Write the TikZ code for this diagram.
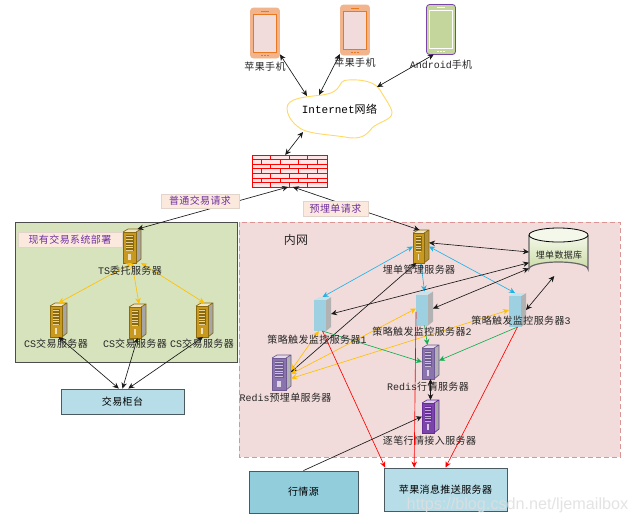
\documentclass[tikz,border=0pt]{standalone}
\usepackage{fontspec}
\setmainfont[LetterSpace=4]{Noto Sans CJK SC}
\newfontfamily\lat{Liberation Mono}
\newfontfamily\wm{Liberation Sans}
\usetikzlibrary{arrows.meta}
\definecolor{pinkbg}{HTML}{F2DCDB}
\definecolor{pinkline}{HTML}{D99694}
\definecolor{greenbg}{HTML}{D7E3BC}
\definecolor{tag}{HTML}{FBE9DD}
\definecolor{tagtext}{HTML}{7030A0}
\definecolor{boxblue}{HTML}{B7DDE8}
\definecolor{boxteal}{HTML}{92CDDC}
\definecolor{boxline}{HTML}{4A5A60}
\definecolor{gold}{HTML}{C9991F}
\definecolor{golddark}{HTML}{8A6A0C}
\definecolor{ice}{HTML}{9DD0E0}
\definecolor{mauve}{HTML}{8B74AE}
\definecolor{mauved}{HTML}{6F5A94}
\definecolor{violet}{HTML}{7A45A8}
\definecolor{violetd}{HTML}{6A2C9A}
\definecolor{cyanarrow}{HTML}{1FB4E8}
\definecolor{yelarrow}{HTML}{FFC000}
\definecolor{grnarrow}{HTML}{10B050}
\definecolor{cloudline}{HTML}{FFD966}
\definecolor{peach}{HTML}{F2B48C}
\definecolor{phoneor}{HTML}{E9781E}
\definecolor{phonegr}{HTML}{C5D69C}
\definecolor{dbtop}{HTML}{F4F8EA}
\definecolor{dbbot}{HTML}{CBDCA6}
\tikzset{
  lbl/.style={inner sep=0pt,font=\fontsize{10}{11}\selectfont,text=black!85},
  tagbox/.style={fill=tag,draw=tag!80!gray,line width=.3pt,inner sep=0pt,text=tagtext,font=\fontsize{10}{11}\selectfont},
  blockbox/.style={draw=boxline,line width=.9pt,inner sep=0pt,font=\fontsize{10}{11}\selectfont},
  lnk/.style={draw=black!90,line width=.65pt,{Stealth[length=6pt,width=5.5pt]}-{Stealth[length=6pt,width=5.5pt]}},
  lnkone/.style={draw=black!90,line width=.65pt,-{Stealth[length=6pt,width=5.5pt]}},
  lnkblue/.style={lnk,draw=cyanarrow},
  lnkyel/.style={lnk,draw=yelarrow},
  lnkgrn/.style={lnkone,draw=grnarrow},
  lnkred/.style={lnkone,draw=red},
}
% name, cx, cy, w, h, front, edge, side
\newcommand{\srvbox}[8]{%
  \node[inner sep=0pt,outer sep=0pt,minimum width=#4pt,minimum height=#5pt] (#1) at (#2,#3) {};
  \begin{scope}[shift={(#1.center)},x=1pt,y=-1pt]
    \pgfmathsetmacro\hw{#4/2}\pgfmathsetmacro\hh{#5/2}
    \pgfmathsetmacro\fr{\hw-5}
    \fill[#8] (\fr,-\hh+3) -- (\hw,-\hh) -- (\hw,\hh-4) -- (\fr,\hh) -- cycle;
    \fill[#6!25!white] (-\hw,-\hh+3) -- (-\hw+5,-\hh) -- (\hw,-\hh) -- (\fr,-\hh+3) -- cycle;
    \fill[#6,draw=#7,line width=.7pt] (-\hw,-\hh+3) rectangle (\fr,\hh);
    \draw[#7,line width=.7pt] (-\hw,-\hh+3) -- (-\hw+5,-\hh) -- (\hw,-\hh) -- (\hw,\hh-4) -- (\fr,\hh) (\fr,-\hh+3) -- (\hw,-\hh);
    \fill[#7] (-\hw+2.5,-\hh+6) rectangle (\fr-2.5,\hh-12);
    \foreach \k in {0,...,5} \draw[#6!45!white,line width=.7pt] (-\hw+3.2,-\hh+7.5+\k*2.8) -- (\fr-3.2,-\hh+7.5+\k*2.8);
    \fill[white!70!#6] (-\hw+5,\hh-9) rectangle (\fr-5,\hh-3);
  \end{scope}
}
\newcommand{\icebox}[4]{%
  \node[inner sep=0pt,outer sep=0pt,minimum width=17pt,minimum height=34pt] (#1) at (#2,#3) {};
  \begin{scope}[shift={(#1.center)},x=1pt,y=-1pt]
    \fill[gray!60] (3.5,-14) -- (8.5,-17) -- (8.5,13) -- (3.5,17) -- cycle;
    \fill[#4!60!white] (-8.5,-14) -- (-3.5,-17) -- (8.5,-17) -- (3.5,-14) -- cycle;
    \fill[#4] (-8.5,-14) rectangle (3.5,17);
  \end{scope}
}
% name, cx, cy, outline, body, screen, screen edge
\newcommand{\phone}[7]{%
  \node[inner sep=0pt,outer sep=0pt,minimum width=30pt,minimum height=50pt] (#1) at (#2,#3) {};
  \begin{scope}[shift={(#1.center)},x=1pt,y=-1pt]
    \draw[draw=#4,fill=#5,line width=.8pt,rounded corners=3pt] (-14.5,-25) rectangle (14.5,25);
    \fill[#7] (-12,-19.5) rectangle (12,19.5);
    \fill[#6] (-11,-18.5) rectangle (11,18.5);
    \draw[#7,line width=.8pt] (-4,-22) -- (4,-22);
    \foreach \k in {-3,0,3} \fill[#7] (\k-.7,21.5) rectangle (\k+.7,22.8);
  \end{scope}
}
\begin{document}
\begin{tikzpicture}[x=1pt,y=-1pt]
\useasboundingbox[fill=white] (0,0) rectangle (636,523);
% regions
\fill[pinkbg] (239,222) rectangle (620,457);
\draw[pinkline,line width=.8pt,dash pattern=on 5pt off 3pt] (239,222) rectangle (620,457);
\node[draw=black!70,fill=greenbg,line width=.9pt,inner sep=0pt,minimum width=222pt,minimum height=140pt] (legacy) at (126,292) {};
% phones
\phone{phone1}{265}{33}{peach}{peach}{pinkbg}{phoneor}
\phone{phone2}{355}{30}{peach}{peach}{pinkbg}{phoneor}
\phone{phone3}{441}{29.5}{violet}{phonegr}{phonegr}{white}
% cloud
\draw[cloudline,line width=.9pt,fill=white] (287,108) .. controls (287,98) and (305,97) .. (322,95) .. controls (345,92) and (336,80) .. (348,80) .. controls (365,79) and (376,83) .. (380,90) .. controls (386,100) and (392,108) .. (392,113) .. controls (392,120) and (378,122) .. (372,128) .. controls (366,136) and (360,140) .. (345,137) .. controls (325,134) and (305,134) .. (297,126) .. controls (290,120) and (287,114) .. (287,108);
\node[inner sep=0pt,font=\fontsize{11}{12}\selectfont] (cloud) at (339.5,109) {{\lat Internet}网络};
\coordinate (cloudnw) at (307,96);
\coordinate (cloudn) at (319,95);
\coordinate (cloudne) at (377,87);
\coordinate (cloudsw) at (303,132);
% firewall
\node[inner sep=0pt,outer sep=0pt,minimum width=75pt,minimum height=32pt,fill=red!10] (fw) at (289.5,171) {};
\begin{scope}[red,line width=.7pt]
  \draw (252,155) rectangle (327,187);
  \foreach \r in {1,...,6} \draw (252,155+\r*4.57) -- (327,155+\r*4.57);
  \foreach \r in {0,2,4,6} \foreach \c in {0,1,2} \draw (270.5+\c*18.5,155+\r*4.57) -- ++(0,4.57);
  \foreach \r in {1,3,5} \foreach \c in {0,1,2,3} \draw (261.5+\c*18.5,155+\r*4.57) -- ++(0,4.57);
\end{scope}
% servers
\srvbox{ts}{132}{246}{18}{34}{gold}{golddark}{gray!70}
\srvbox{cs1}{58.5}{320}{17}{34}{gold}{golddark}{gray!70}
\srvbox{cs2}{137.5}{321}{17}{34}{gold}{golddark}{gray!70}
\srvbox{cs3}{204.5}{320}{17}{34}{gold}{golddark}{gray!70}
\srvbox{mgr}{421}{246.5}{16}{33}{gold}{golddark}{gold!70!gray}
\icebox{m1}{322.5}{314}{ice}
\icebox{m2}{424.5}{308.5}{ice}
\icebox{m3}{517.5}{310}{ice}
\srvbox{pre}{281.5}{372.5}{19}{35}{mauve}{mauved}{gray!60}
\srvbox{red}{430.5}{362}{17}{34}{mauve}{mauved}{gray!60}
\srvbox{tick}{430.5}{416.5}{17}{33}{violet}{violetd}{gray!70}
% database
\node[inner sep=0pt,outer sep=0pt,minimum width=59pt,minimum height=48pt] (db) at (558.5,252) {};
\shade[top color=dbtop,bottom color=dbbot] (529,235) -- (529,269) arc[start angle=180,end angle=360,x radius=29.5,y radius=7] -- (588,235) arc[start angle=0,end angle=180,x radius=29.5,y radius=7] -- cycle;
\draw[black!60,line width=1.2pt] (529,235) -- (529,269) arc[start angle=180,end angle=360,x radius=29.5,y radius=7] -- (588,235);
\draw[black,line width=.8pt,fill=dbtop] (558.5,235) ellipse[x radius=29.5,y radius=7];
% blocks
\node[blockbox,fill=boxblue,minimum width=123pt,minimum height=25pt] (counter) at (122.5,401.5) {交易柜台};
\node[blockbox,fill=boxteal,minimum width=109pt,minimum height=42pt] (src) at (303.5,492) {行情源};
\node[blockbox,fill=boxblue,minimum width=123pt,minimum height=43pt] (push) at (445.5,489.5) {苹果消息推送服务器};
% connectors
\draw[lnk] (phone1.-55) -- (cloudnw);
\draw[lnk] (phone2.-122) -- (cloudn);
\draw[lnk] (phone3.-106) -- (cloudne);
\draw[lnk] (cloudsw) -- (fw.105);
\draw[lnk] (fw.-95) -- (ts.72);
\draw[lnk] (fw.-78) -- (mgr.95);
\draw[lnkyel] (ts.south) -- (cs1.north);
\draw[lnkyel] (ts.south) -- (cs2.85);
\draw[lnkyel] (ts.-62) -- (cs3.north);
\draw[lnk] (cs1.south) -- (counter.106);
\draw[lnk] (cs2.south) -- (counter.north);
\draw[lnk] (cs3.-95) -- (counter.66);
\draw[lnkblue] (mgr.west) -- (m1.north);
\draw[lnkblue] (mgr.east) -- (m3.98);
\draw[lnkblue] (mgr.south) -- (m2.north);
\draw[lnk] (mgr.25) -- (db.west);
\draw[lnk] (db.200) -- (m1.east);
\draw[lnk] (db.209) -- (m2.east);
\draw[lnk] (db.-100) -- (m3.east);
\draw[lnk] (mgr.-106) -- (pre.3);
\draw[lnkyel] (m1.-102) -- (pre.12);
\draw[lnkyel] (m2.west) -- (pre.-9);
\draw[lnkyel] (m3.west) -- (pre.-32);
\draw[lnkgrn] (m1.south) -- (red.west);
\draw[lnkgrn] (m2.south) -- (red.100);
\draw[lnkgrn] (m3.south) -- (red.10);
\draw[lnkred] (m1.south) -- (push.160);
\draw[lnkred] (m2.-158) -- (push.145);
\draw[lnkred] (m3.south) -- (push.north);
\draw[lnk,line width=.9pt] (red.south) -- (tick.north);
\draw[lnkone] (src.north) -- (tick.west);
% labels
\node[lbl] (l1) at (265,67) {苹果手机};
\node[lbl] (l2) at (355,63) {苹果手机};
\node[lbl] (l3) at (441,65) {{\lat Android}手机};
\node[tagbox,minimum width=78pt,minimum height=14pt] (t1) at (200,201) {普通交易请求};
\node[tagbox,minimum width=65pt,minimum height=15pt] (t2) at (335.5,208.5) {预埋单请求};
\node[tagbox,minimum width=104pt,minimum height=15pt] (t3) at (70,239.5) {现有交易系统部署};
\node[lbl] (lts) at (130,271) {{\lat TS}委托服务器};
\node[lbl] (lcs1) at (56,344) {{\lat CS}交易服务器};
\node[lbl] (lcs2) at (135,344) {{\lat CS}交易服务器};
\node[lbl] (lcs3) at (202,344) {{\lat CS}交易服务器};
\node[lbl,font=\fontsize{12}{13}\selectfont] (lnet) at (296,240) {内网};
\node[lbl] (lmgr) at (419,270) {埋单管理服务器};
\node[lbl,font=\fontsize{9}{10}\selectfont] (ldb) at (559,255) {埋单数据库};
\node[lbl] (lm1) at (317,340) {策略触发监控服务器{\lat 1}};
\node[lbl] (lm2) at (422,332) {策略触发监控服务器{\lat 2}};
\node[lbl] (lm3) at (521,321) {策略触发监控服务器{\lat 3}};
\node[lbl] (lpre) at (285.5,398) {{\lat Redis}预埋单服务器};
\node[lbl] (lred) at (428,387) {{\lat Redis}行情服务器};
\node[lbl] (ltick) at (429.5,441) {逐笔行情接入服务器};
\node[inner sep=0pt,text=gray!25!white,opacity=.85,font=\wm\fontsize{16.2}{18}\selectfont] (wmk) at (517.5,505) {https://blog.csdn.net/ljemailbox};
\end{tikzpicture}
\end{document}
